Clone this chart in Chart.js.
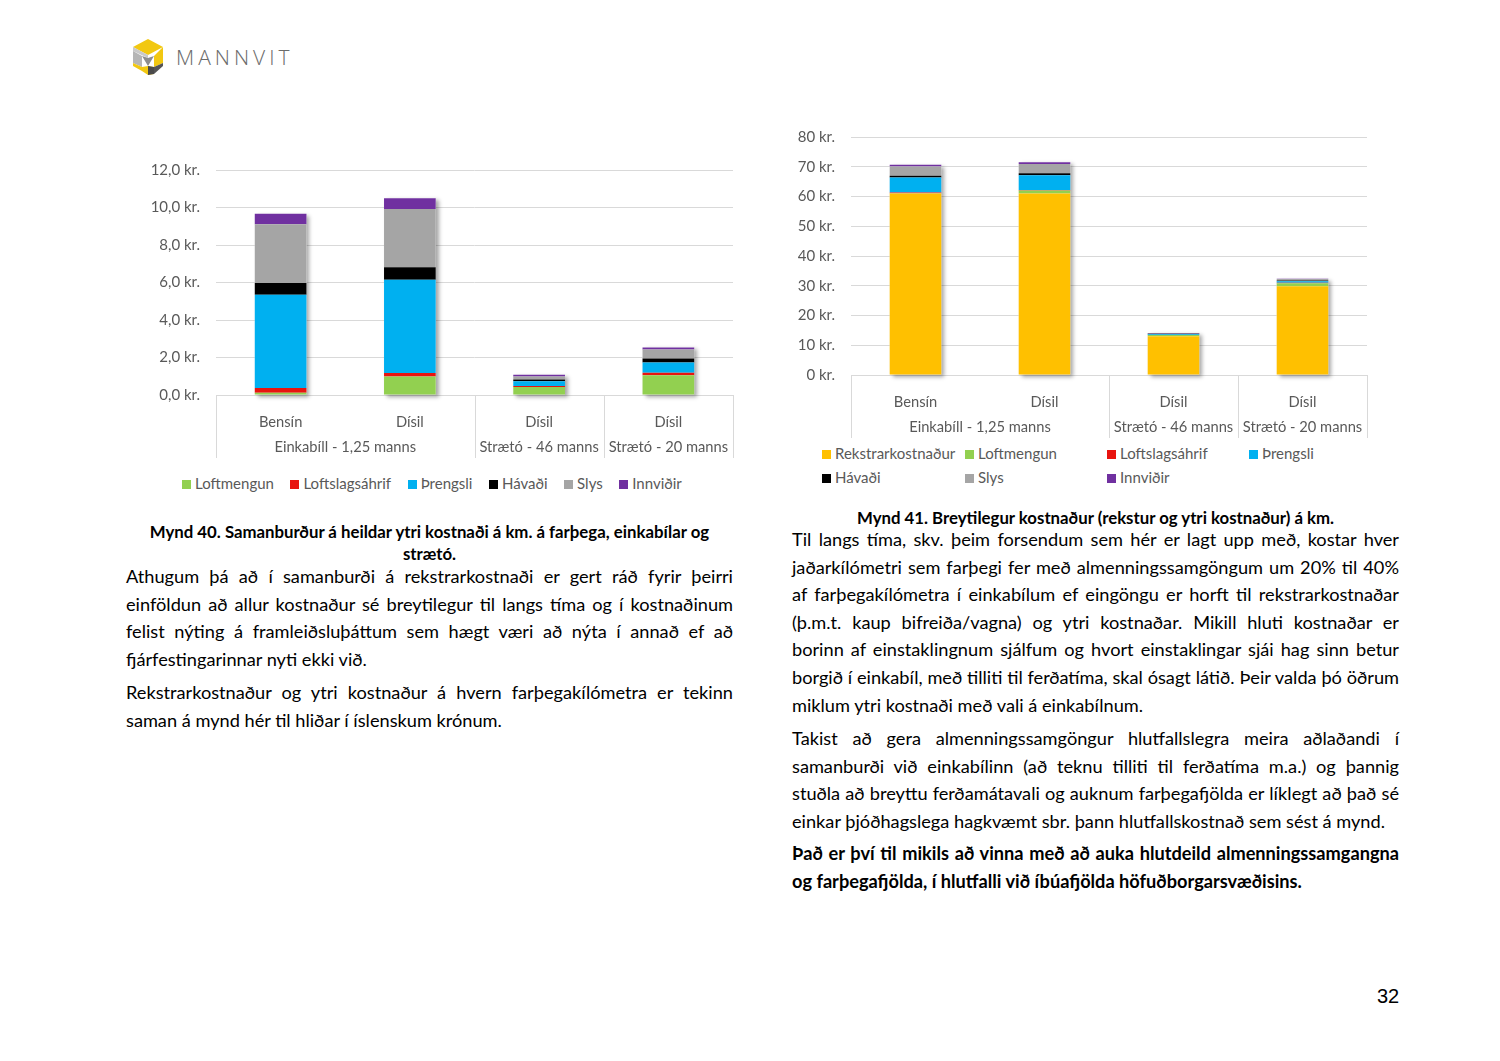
<!DOCTYPE html>
<html>
<head>
<meta charset="utf-8">
<script src="https://cdn.jsdelivr.net/npm/chart.js@4.4.1/dist/chart.umd.min.js"></script>
<style>
  body { margin: 0; background: #fff; font-family: Lato, "Open Sans", sans-serif; }
  #page { position: relative; width: 1500px; height: 1061px; overflow: hidden; background: #fff; }
  .abs { position: absolute; }
  .col { width: 607px; font-size: 18.2px; line-height: 27.6px; color: #000; }
  .col div { white-space: nowrap; }
  .col div.j { text-align: justify; text-align-last: justify; }
  .cap { font-weight: bold; font-size: 16.8px; line-height: 22px; text-align: center; color: #000; }
  .legend { font-size: 15px; color: #595959; display: flex; }
  .legend span.b { display: inline-block; width: 9px; height: 9px; margin-right: 4px; vertical-align: 0px; }
  #leg2 { display: grid; grid-template-columns: 143px 142px 142px 120px; row-gap: 6px; }
  .logo-text { font-size: 21px; letter-spacing: 4px; color: #6b6b6b; font-family: "Open Sans", sans-serif; font-weight: 300; }
</style>
</head>
<body>
<div id="page">
  <svg class="abs" style="left:130px;top:38px" width="36" height="38" viewBox="0 0 36 38">
    <polygon points="18,1 33,9 18,17 3,9" fill="#f2c811"/>
    <polygon points="3,9 18,17 18,20 3,13" fill="#c9c9c9"/>
    <polygon points="3,13 12,18 12,29 3,25" fill="#b5b5b5"/>
    <polygon points="12,18 18,20 24,18 18,28" fill="#8d8d8d"/>
    <polygon points="33,9 33,25 24,29 24,18" fill="#f2c811"/>
    <polygon points="3,25 12,29 12,33 3,28" fill="#f2c811"/>
    <polygon points="12,29 18,28 24,29 24,36 18,37 12,33" fill="#f2c811"/>
    <polygon points="24,29 33,25 33,28 24,36" fill="#555"/>
    <polygon points="18,28 24,29 24,36 18,37" fill="#4a4a4a"/>
  </svg>
  <div class="abs logo-text" style="left:176px;top:43px">MANNVIT</div>

  <canvas id="c1" class="abs" style="left:140px;top:145px"></canvas>
  <div id="leg1" class="abs legend" style="left:182px;top:474px"></div>

  <canvas id="c2" class="abs" style="left:790px;top:112px"></canvas>
  <div id="leg2" class="abs legend" style="left:822px;top:444px"></div>

  <div class="abs cap" style="left:126px;top:521px;width:607px">Mynd 40. Samanburður á heildar ytri kostnaði á km. á farþega, einkabílar og<br>strætó.</div>
  <div class="abs cap" style="left:792px;top:507px;width:607px">Mynd 41. Breytilegur kostnaður (rekstur og ytri kostnaður) á km.</div>

  <div class="abs col" style="left:126px;top:563px">
    <div class="j">Athugum þá að í samanburði á rekstrarkostnaði er gert ráð fyrir þeirri</div>
    <div class="j">einföldun að allur kostnaður sé breytilegur til langs tíma og í kostnaðinum</div>
    <div class="j">felist nýting á framleiðsluþáttum sem hægt væri að nýta í annað ef að</div>
    <div>fjárfestingarinnar nyti ekki við.</div>
  </div>
  <div class="abs col" style="left:126px;top:679px">
    <div class="j">Rekstrarkostnaður og ytri kostnaður á hvern farþegakílómetra er tekinn</div>
    <div>saman á mynd hér til hliðar í íslenskum krónum.</div>
  </div>

  <div class="abs col" style="left:792px;top:526px">
    <div class="j">Til langs tíma, skv. þeim forsendum sem hér er lagt upp með, kostar hver</div>
    <div class="j">jaðarkílómetri sem farþegi fer með almenningssamgöngum um 20% til 40%</div>
    <div class="j">af farþegakílómetra í einkabílum ef eingöngu er horft til rekstrarkostnaðar</div>
    <div class="j">(þ.m.t. kaup bifreiða/vagna) og ytri kostnaðar. Mikill hluti kostnaðar er</div>
    <div class="j">borinn af einstaklingnum sjálfum og hvort einstaklingar sjái hag sinn betur</div>
    <div class="j">borgið í einkabíl, með tilliti til ferðatíma, skal ósagt látið. Þeir valda þó öðrum</div>
    <div>miklum ytri kostnaði með vali á einkabílnum.</div>
  </div>
  <div class="abs col" style="left:792px;top:725px">
    <div class="j">Takist að gera almenningssamgöngur hlutfallslegra meira aðlaðandi í</div>
    <div class="j">samanburði við einkabílinn (að teknu tilliti til ferðatíma m.a.) og þannig</div>
    <div class="j">stuðla að breyttu ferðamátavali og auknum farþegafjölda er líklegt að það sé</div>
    <div>einkar þjóðhagslega hagkvæmt sbr. þann hlutfallskostnað sem sést á mynd.</div>
  </div>
  <div class="abs col" style="left:792px;top:840px;font-weight:bold">
    <div class="j">Það er því til mikils að vinna með að auka hlutdeild almenningssamgangna</div>
    <div>og farþegafjölda, í hlutfalli við íbúafjölda höfuðborgarsvæðisins.</div>
  </div>

  <div class="abs" style="left:1377px;top:985px;font-family:'Liberation Sans',Arial,sans-serif;font-size:20px;color:#000">32</div>
</div>

<script>
// flokkar og hópar
const categories = ['Bensín', 'Dísil', 'Dísil', 'Dísil'];
const groupNames = ['Einkabíll - 1,25 manns', 'Strætó - 46 manns', 'Strætó - 20 manns'];
const groupSizes = [2, 1, 1];

// ytri kostnaður, kr. á km
const loftmengun = [0.12, 0.99, 0.43, 1.05];
const loftslagsahrif = [0.25, 0.18, 0.05, 0.14];
const threngsli = [4.98, 4.98, 0.25, 0.55];
const havadi = [0.62, 0.66, 0.10, 0.21];
const slys = [3.14, 3.11, 0.16, 0.48];
const innvidir = [0.56, 0.57, 0.09, 0.11];
// rekstrarkostnaður, kr. á km
const rekstrarkostnadur = [61.0, 61.0, 13.0, 29.8];

const ticks1 = [0, 2, 4, 6, 8, 10, 12];
const ticks2 = [0, 10, 20, 30, 40, 50, 60, 70, 80];

const FONT = 'Lato, "Open Sans", sans-serif';
const GRID = '#d9d9d9';
const TXT = '#595959';

const extSeries = [
  { label: 'Loftmengun', data: loftmengun, color: '#92d050' },
  { label: 'Loftslagsáhrif', data: loftslagsahrif, color: '#e8140f' },
  { label: 'Þrengsli', data: threngsli, color: '#00b0f0' },
  { label: 'Hávaði', data: havadi, color: '#000000' },
  { label: 'Slys', data: slys, color: '#a5a5a5' },
  { label: 'Innviðir', data: innvidir, color: '#7030a0' }
];
const allSeries = [{ label: 'Rekstrarkostnaður', data: rekstrarkostnadur, color: '#ffc000' }].concat(extSeries);

// skuggi undir súlum (eins og í Excel)
const shadowPlugin = {
  id: 'barShadow',
  beforeDatasetsDraw(chart) {
    const ctx = chart.ctx;
    const n = chart.data.labels.length;
    const last = chart.getDatasetMeta(chart.data.datasets.length - 1);
    const first = chart.getDatasetMeta(0);
    ctx.save();
    ctx.shadowColor = 'rgba(0,0,0,0.35)';
    ctx.shadowBlur = 4;
    ctx.shadowOffsetX = 3;
    ctx.shadowOffsetY = 2;
    ctx.fillStyle = '#ffffff';
    for (let i = 0; i < n; i++) {
      const top = last.data[i];
      const bot = first.data[i];
      ctx.fillRect(top.x - top.width / 2, top.y, top.width, bot.base - top.y);
    }
    ctx.restore();
  }
};

// hópamerki og skilalínur á x-ás
const groupPlugin = {
  id: 'groupAxis',
  afterDraw(chart) {
    const ctx = chart.ctx;
    const x = chart.scales.x;
    const area = chart.chartArea;
    const catW = x.width / categories.length;
    const bottom = area.bottom + 63;
    ctx.save();
    ctx.strokeStyle = GRID;
    ctx.lineWidth = 1;
    ctx.fillStyle = TXT;
    ctx.font = '14.7px ' + FONT;
    ctx.textAlign = 'center';
    ctx.textBaseline = 'middle';
    let idx = 0;
    const edges = [x.left];
    groupNames.forEach((g, k) => {
      const start = x.getPixelForValue(idx) - catW / 2;
      const end = x.getPixelForValue(idx + groupSizes[k] - 1) + catW / 2;
      ctx.fillText(g, (start + end) / 2, area.bottom + 52);
      edges.push(end);
      idx += groupSizes[k];
    });
    edges.forEach(px => {
      const xx = Math.round(px) + 0.5;
      ctx.beginPath();
      ctx.moveTo(xx, area.bottom);
      ctx.lineTo(xx, bottom);
      ctx.stroke();
    });
    ctx.restore();
  }
};

function makeChart(id, series, w, h, yWidth, pad, yMax, step, fmt) {
  const canvas = document.getElementById(id);
  canvas.width = w;
  canvas.height = h;
  canvas.style.width = w + 'px';
  canvas.style.height = h + 'px';
  return new Chart(canvas, {
    type: 'bar',
    data: {
      labels: categories,
      datasets: series.map(s => ({
        label: s.label,
        data: s.data,
        backgroundColor: s.color,
        borderWidth: 0,
        categoryPercentage: 1,
        barPercentage: 0.4
      }))
    },
    options: {
      responsive: false,
      animation: false,
      layout: { padding: pad },
      plugins: { legend: { display: false }, tooltip: { enabled: false } },
      scales: {
        x: {
          stacked: true,
          grid: { display: false },
          border: { color: GRID },
          ticks: { color: TXT, font: { family: FONT, size: 14.7 }, padding: 10, maxRotation: 0 },
          afterFit(s) { s.height = 63; }
        },
        y: {
          stacked: true,
          min: 0,
          max: yMax,
          grid: { color: GRID, drawTicks: false },
          border: { display: false },
          ticks: { stepSize: step, color: TXT, font: { family: FONT, size: 15 }, padding: 16, callback: fmt },
          afterFit(s) { s.width = yWidth; }
        }
      }
    },
    plugins: [shadowPlugin, groupPlugin]
  });
}

makeChart('c1', extSeries, 600, 317, 76, { top: 14, right: 7, bottom: 4, left: 0 },
  ticks1[ticks1.length - 1], ticks1[1] - ticks1[0], v => v.toFixed(1).replace('.', ',') + ' kr.');
makeChart('c2', allSeries, 580, 329, 61, { top: 10, right: 3, bottom: 3, left: 0 },
  ticks2[ticks2.length - 1], ticks2[1] - ticks2[0], v => v + ' kr.');

function buildLegend(id, series, gap) {
  const el = document.getElementById(id);
  series.forEach(s => {
    const it = document.createElement('div');
    it.style.marginRight = gap + 'px';
    it.innerHTML = '<span class="b" style="background:' + s.color + '"></span>' + s.label;
    el.appendChild(it);
  });
}
buildLegend('leg1', extSeries, 16.5);
buildLegend('leg2', allSeries, 0);
</script>
</body>
</html>
